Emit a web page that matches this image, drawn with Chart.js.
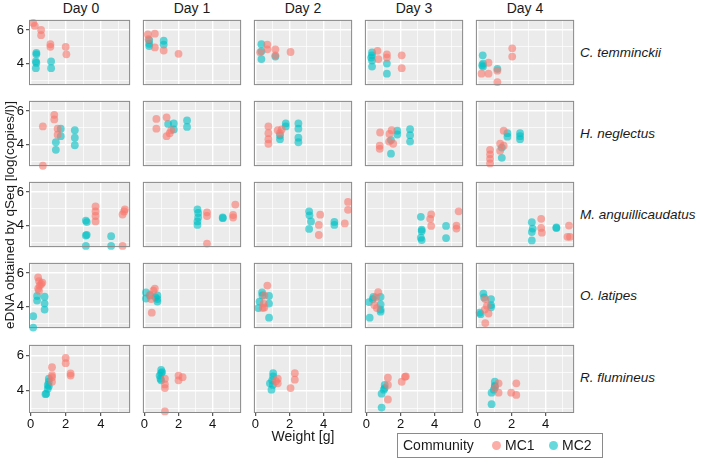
<!DOCTYPE html>
<html><head><meta charset="utf-8">
<script src="https://cdn.jsdelivr.net/npm/chart.js@4.4.1/dist/chart.umd.min.js"></script>
<style>
body{margin:0;background:#fff;width:709px;height:458px;overflow:hidden;position:relative;font-family:"Liberation Sans",Arial,sans-serif;}
canvas{position:absolute;}
.lbl{position:absolute;white-space:nowrap;color:#1a1a1a;}
</style></head><body>
<script>
// ---- categories / ticks ----
const days = ['Day 0','Day 1','Day 2','Day 3','Day 4'];
const species = ['C. temminckii','H. neglectus','M. anguillicaudatus','O. latipes','R. flumineus'];
const communities = ['MC1','MC2'];
const xTickLabels = [0,2,4];
const yTickLabels = [4,6];
const xLimits = [-0.09,5.67];
const yLimits = [2.72,6.6];

// ---- data: [day, weight (g), eDNA log(copies/l)] ----
const temminckii_MC1 = [
 [0,0.15,6.42],[0,0.24,6.24],[0,0.6,6.0],[0,0.6,5.69],[0,1.13,5.15],[0,1.13,5.0],[0,2.0,5.0],[0,2.04,4.55],
 [1,0.2,5.73],[1,0.24,5.45],[1,0.61,5.78],[1,0.61,4.96],[1,1.13,4.78],[1,2.0,4.58],
 [2,0.7,5.13],[2,0.7,4.85],[2,0.28,4.67],[2,1.17,4.85],[2,1.17,4.49],[2,2.06,4.69],
 [3,0.65,4.76],[3,0.7,4.27],[3,1.2,4.55],[3,1.2,4.36],[3,2.07,4.49],[3,2.07,3.73],
 [4,0.24,3.4],[4,0.65,4.05],[4,0.65,3.4],[4,1.17,3.58],[4,1.17,2.9],[4,2.04,4.91],[4,2.04,4.42]];
const temminckii_MC2 = [
 [0,0.33,4.64],[0,0.33,4.55],[0,0.3,4.13],[0,0.33,4.04],[0,0.3,3.73],[0,1.17,4.13],[0,1.17,3.73],
 [1,0.28,5.4],[1,0.28,5.18],[1,0.28,5.04],[1,1.13,5.36],[1,1.13,5.13],
 [2,0.35,5.15],[2,0.35,4.73],[2,0.35,4.27],[2,1.17,4.42],
 [3,0.33,4.67],[3,0.33,4.49],[3,0.28,4.36],[3,0.33,4.18],[3,0.33,3.82],[3,1.2,4.0],[3,1.2,3.4],
 [4,0.31,4.49],[4,0.28,3.9],[4,0.33,4.0],[4,0.33,3.82],[4,1.17,3.69]];
const neglectus_MC1 = [
 [0,0.7,5.08],[0,1.35,5.77],[0,1.35,5.5],[0,1.54,4.95],[0,1.54,4.59],[0,0.7,2.74],
 [1,0.7,5.53],[1,0.7,4.95],[1,1.3,5.62],[1,1.3,4.5],[1,1.48,4.68],[1,1.57,4.86],
 [2,0.76,5.08],[2,0.76,4.68],[2,0.76,4.32],[2,0.76,4.05],[2,1.31,4.86],[2,1.54,4.9],[2,1.44,4.68],
 [3,0.8,4.72],[3,1.35,4.63],[3,1.33,4.18],[3,1.57,4.05],[3,0.78,3.93],[3,0.78,3.75],[3,1.48,4.86],
 [4,1.54,4.83],[4,1.33,4.05],[4,1.33,3.64],[4,1.54,3.93],[4,0.74,3.69],[4,0.74,3.42],[4,0.74,3.15],[4,0.74,2.88]];
const neglectus_MC2 = [
 [0,1.72,4.95],[0,1.72,4.5],[0,1.44,4.14],[0,1.44,3.69],[0,2.52,4.86],[0,2.52,4.41],[0,2.52,3.96],
 [1,1.39,5.23],[1,1.72,5.26],[1,1.72,4.9],[1,2.5,5.44],[1,2.5,5.05],
 [2,1.78,5.26],[2,1.78,5.08],[2,1.44,4.54],[2,1.44,4.32],[2,2.52,5.26],[2,2.52,4.95],[2,2.52,4.41],[2,2.52,4.14],
 [3,1.81,4.83],[3,1.81,4.6],[3,1.44,4.27],[3,1.44,3.46],[3,2.56,4.92],[3,2.56,4.56],[3,2.56,4.18],
 [4,1.76,4.68],[4,1.76,4.47],[4,1.43,3.82],[4,1.43,3.21],[4,2.5,4.68],[4,2.5,4.5],[4,2.5,4.32]];
const anguillicaudatus_MC1 = [
 [0,3.7,5.14],[0,3.7,4.84],[0,3.7,4.57],[0,3.7,4.25],[0,5.37,4.96],[0,5.33,4.84],[0,5.24,4.66],[0,5.24,2.79],
 [1,3.67,4.79],[1,3.67,4.57],[1,3.67,2.93],[1,5.33,5.25],[1,5.2,4.63],[1,5.2,4.48],
 [2,3.8,4.65],[2,3.72,4.04],[2,3.72,3.44],[2,5.43,5.41],[2,5.43,4.94],[2,5.24,4.13],
 [3,3.8,4.67],[3,3.74,4.4],[3,3.8,3.98],[3,5.41,4.85],[3,5.28,4.0],[3,5.28,3.82],
 [4,3.74,4.4],[4,3.74,3.86],[4,3.78,3.58],[4,5.37,4.0],[4,5.28,3.33],[4,5.43,3.33]];
const anguillicaudatus_MC2 = [
 [0,3.15,4.3],[0,3.2,4.21],[0,3.15,3.41],[0,3.2,3.45],[0,3.15,2.79],[0,4.59,3.37],[0,4.59,2.79],
 [1,3.11,4.96],[1,3.15,4.75],[1,3.15,4.48],[1,3.11,4.25],[1,3.11,4.04],[1,4.59,4.48],[1,4.6,4.44],
 [2,3.15,4.85],[2,3.17,4.61],[2,3.26,4.25],[2,3.15,3.8],[2,4.63,4.22],[2,4.63,4.04],
 [3,3.19,4.52],[3,3.24,3.76],[3,3.24,3.67],[3,3.19,3.28],[3,3.24,3.14],[3,4.67,3.98],[3,4.67,3.26],
 [4,3.19,4.2],[4,3.24,3.82],[4,3.19,3.62],[4,3.19,3.12],[4,4.63,3.89],[4,4.63,3.85]];
const latipes_MC1 = [
 [0,0.43,5.73],[0,0.48,5.52],[0,0.61,5.34],[0,0.67,5.43],[0,0.52,5.25],[0,0.43,5.07],[0,0.48,4.95],
 [1,0.61,5.07],[1,0.52,4.95],[1,0.33,4.71],[1,0.39,4.45],[1,0.43,3.64],
 [2,0.7,5.25],[2,0.52,4.66],[2,0.48,4.18],[2,0.52,3.95],[2,0.43,3.91],
 [3,0.69,4.86],[3,0.56,4.54],[3,0.46,4.09],[3,0.61,3.91],
 [4,0.46,4.45],[4,0.56,4.05],[4,0.43,3.82],[4,0.65,3.59],[4,0.46,3.02]];
const latipes_MC2 = [
 [0,0.37,4.63],[0,0.37,4.36],[0,0.8,4.59],[0,0.8,4.18],[0,0.8,3.82],[0,0.15,3.43],[0,0.15,2.75],
 [1,0.09,4.84],[1,0.09,4.48],[1,0.33,4.66],[1,0.76,4.66],[1,0.76,4.45],[1,0.76,4.3],[1,0.65,4.55],
 [2,0.39,4.84],[2,0.24,4.3],[2,0.17,3.91],[2,0.8,4.63],[2,0.8,4.18],[2,0.8,3.34],[2,0.41,4.66],
 [3,0.41,4.57],[3,0.37,4.45],[3,0.15,4.27],[3,0.83,4.57],[3,0.83,4.13],[3,0.83,3.82],[3,0.83,3.7],[3,0.19,3.34],
 [4,0.35,4.77],[4,0.39,4.54],[4,0.8,4.45],[4,0.8,4.09],[4,0.8,3.96],[4,0.13,3.64],[4,0.19,3.55]];
const flumineus_MC1 = [
 [0,2.0,5.86],[0,2.0,5.56],[0,2.28,4.97],[0,2.28,4.85],[0,1.22,5.33],[0,1.22,4.88],[0,1.22,4.76],[0,1.22,4.5],
 [1,1.2,4.67],[1,1.2,4.35],[1,1.2,4.14],[1,2.0,4.85],[1,2.0,4.58],[1,2.24,4.76],[1,1.2,2.81],
 [2,1.31,4.67],[2,1.31,4.41],[2,1.2,4.53],[2,2.06,4.14],[2,2.31,4.99],[2,2.31,4.62],
 [3,1.26,4.73],[3,1.26,4.32],[3,1.26,3.49],[3,2.07,4.5],[3,2.31,4.81],[3,2.26,4.78],
 [4,1.24,4.41],[4,1.24,3.88],[4,1.98,3.88],[4,2.28,4.41],[4,2.28,3.75],[4,1.02,4.15]];
const flumineus_MC2 = [
 [0,1.04,4.67],[0,1.04,4.5],[0,0.98,4.32],[0,0.98,4.1],[0,0.85,3.79],[0,0.89,3.82],[0,1.04,4.24],
 [1,0.98,5.17],[1,0.98,4.99],[1,0.89,4.85],[1,0.94,4.67],[1,0.98,4.58],[1,1.04,5.05],
 [2,1.04,4.99],[2,1.04,4.81],[2,0.98,4.58],[2,0.85,4.41],[2,0.94,4.05],[2,1.02,4.32],
 [3,1.07,4.32],[3,1.07,4.14],[3,1.02,4.05],[3,0.89,3.82],[3,0.89,3.03],
 [4,1.02,4.5],[4,1.02,4.28],[4,0.96,4.05],[4,0.83,3.88],[4,0.83,3.22],[4,1.02,4.2]];

const seriesMC1 = [temminckii_MC1, neglectus_MC1, anguillicaudatus_MC1, latipes_MC1, flumineus_MC1];
const seriesMC2 = [temminckii_MC2, neglectus_MC2, anguillicaudatus_MC2, latipes_MC2, flumineus_MC2];

// ---- styling / layout ----
const FONT = '"Liberation Sans", Arial, sans-serif';
const COL_MC1 = 'rgba(248,118,109,0.6)';
const COL_MC2 = 'rgba(0,191,196,0.6)';
const colX = [29,140,251,362,473];
const rowY = [17,98,179,260,342];
const PW = 104, PH = 71;
const PT_R = 3.9;

function pick(arr, d){ return arr.filter(p => p[0] === d).map(p => ({x:p[1], y:p[2]})); }

const panelPlugin = {
  id:'panelBg',
  beforeDraw(chart){
    const a = chart.chartArea, ctx = chart.ctx;
    ctx.save(); ctx.fillStyle = '#EBEBEB';
    ctx.fillRect(a.left, a.top, a.right - a.left, a.bottom - a.top);
    ctx.restore();
  },
  afterDraw(chart){
    const a = chart.chartArea, ctx = chart.ctx;
    ctx.save(); ctx.strokeStyle = '#8a8a8a'; ctx.lineWidth = 1;
    ctx.strokeRect(a.left + 0.5, a.top + 0.5, a.right - a.left - 1, a.bottom - a.top - 1);
    ctx.restore();
  }
};

function isMajor(v, majors){ return majors.includes(v); }
function zeroPad(s){ s.paddingTop = 0; s.paddingBottom = 0; s.paddingLeft = 0; s.paddingRight = 0; }

function makePanel(r, c){
  const left = c === 0, bottom = r === species.length - 1;
  const padL = left ? 29 : 1, padB = bottom ? 24 : 1;
  const W = PW + padL + 1, H = PH + 1 + padB;
  const cv = document.createElement('canvas');
  cv.style.left = (colX[c] - padL) + 'px';
  cv.style.top = (rowY[r] - 1) + 'px';
  cv.style.width = W + 'px'; cv.style.height = H + 'px';
  cv.width = W; cv.height = H;
  document.body.appendChild(cv);
  new Chart(cv, {
    type:'scatter',
    data:{datasets:[
      {label:communities[1], data:pick(seriesMC2[r], c), backgroundColor:COL_MC2, borderWidth:0, pointRadius:PT_R, pointHoverRadius:PT_R, clip:false, order:2},
      {label:communities[0], data:pick(seriesMC1[r], c), backgroundColor:COL_MC1, borderWidth:0, pointRadius:PT_R, pointHoverRadius:PT_R, clip:false, order:1}
    ]},
    options:{
      responsive:false, animation:false, events:[],
      layout:{padding:{left:left?0:1, right:1, top:1, bottom:bottom?0:1}},
      plugins:{legend:{display:false}, tooltip:{enabled:false}},
      scales:{
        x:{type:'linear', min:xLimits[0], max:xLimits[1],
          afterFit(s){ s.height = bottom ? 24 : 0; zeroPad(s); },
          border:{display:false},
          grid:{color:'#ffffff', lineWidth:ctx => isMajor(ctx.tick.value, xTickLabels) ? 1.4 : 0.7,
                drawTicks:bottom, tickLength:3, tickWidth:1,
                tickColor:ctx => isMajor(ctx.tick.value, xTickLabels) ? '#333333' : 'rgba(0,0,0,0)'},
          ticks:{display:bottom, stepSize:1, includeBounds:false, autoSkip:false, maxRotation:0,
                 padding:1, color:'#111111', font:{family:FONT, size:13},
                 callback:v => xTickLabels.includes(v) ? String(v) : ''}
        },
        y:{type:'linear', min:yLimits[0], max:yLimits[1],
          afterFit(s){ s.width = left ? 29 : 0; zeroPad(s); },
          border:{display:false},
          grid:{color:'#ffffff', lineWidth:ctx => isMajor(ctx.tick.value, yTickLabels) ? 1.4 : 0.7,
                drawTicks:left, tickLength:3, tickWidth:1,
                tickColor:ctx => isMajor(ctx.tick.value, yTickLabels) ? '#333333' : 'rgba(0,0,0,0)'},
          ticks:{display:left, stepSize:1, includeBounds:false, autoSkip:false,
                 padding:2, color:'#111111', font:{family:FONT, size:13},
                 callback:v => yTickLabels.includes(v) ? String(v) : ''}
        }
      }
    },
    plugins:[panelPlugin]
  });
}

function addLabel(text, css){
  const d = document.createElement('div');
  d.className = 'lbl'; d.textContent = text;
  Object.assign(d.style, css);
  document.body.appendChild(d);
  return d;
}

for (let r = 0; r < species.length; r++)
  for (let c = 0; c < days.length; c++) makePanel(r, c);

// strip labels
days.forEach((d, c) => addLabel(d, {left:colX[c]+'px', top:'0px', width:PW+'px', textAlign:'center', fontSize:'14px', lineHeight:'16px'}));
species.forEach((s, r) => addLabel(s, {left:'580px', top:(rowY[r] + PH/2 - 8)+'px', fontSize:'13.5px', lineHeight:'16px', fontStyle:'italic'}));

// axis titles
addLabel('Weight [g]', {left:(colX[0])+'px', width:(colX[4]+PW-colX[0])+'px', textAlign:'center', top:'428px', fontSize:'14px', lineHeight:'16px'});
addLabel('eDNA obtained by qSeq [log(copies/l)]', {left:(10-200)+'px', top:(214.5-8)+'px', width:'400px', textAlign:'center', fontSize:'13.5px', lineHeight:'16px', transform:'rotate(-90deg)'});

// legend
const lg = document.createElement('div');
Object.assign(lg.style, {position:'absolute', left:'397px', top:'433px', width:'204px', height:'23px', border:'1px solid #8a8a8a', background:'#fff', fontSize:'14px', lineHeight:'23px', color:'#1a1a1a', whiteSpace:'nowrap'});
lg.innerHTML = '<span style="position:absolute;left:5px;">Community</span>' +
  '<span style="position:absolute;left:94px;top:7px;width:9px;height:9px;border-radius:50%;background:'+COL_MC1+'"></span>' +
  '<span style="position:absolute;left:107px;">'+communities[0]+'</span>' +
  '<span style="position:absolute;left:151px;top:7px;width:9px;height:9px;border-radius:50%;background:'+COL_MC2+'"></span>' +
  '<span style="position:absolute;left:164px;">'+communities[1]+'</span>';
document.body.appendChild(lg);
</script>
</body></html>
